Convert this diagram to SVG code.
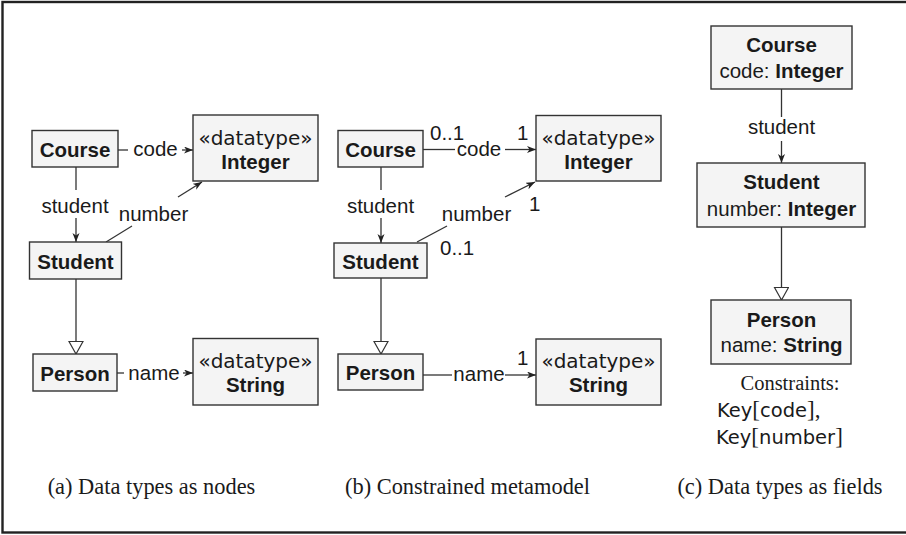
<svg xmlns="http://www.w3.org/2000/svg" width="906" height="535" viewBox="0 0 906 535">
  <style>
    .box { fill: #f4f4f4; stroke: #333; stroke-width: 1.4; }
    .edge { fill: none; stroke: #333; stroke-width: 1.3; }
    .frame { fill: none; stroke: #222; stroke-width: 2.4; }
    text { fill: #1a1a1a; font-family: "Liberation Sans", Arial, sans-serif; font-size: 20.5px; }
    .b { font-weight: bold; }
    .st { font-family: "DejaVu Sans", sans-serif; font-size: 20px; }
    .mid { text-anchor: middle; }
    .serif { font-family: "Liberation Serif", "Times New Roman", serif; }
    .cap { font-family: "Liberation Serif", "Times New Roman", serif; font-size: 22.4px; }
    .ss { font-family: "DejaVu Sans", sans-serif; font-size: 19.5px; }
    .br { font-family: "Liberation Serif", serif; font-size: 23px; }
  </style>
  <defs>
    <marker id="arrow" markerUnits="userSpaceOnUse" markerWidth="10" markerHeight="8" refX="9" refY="3.5" orient="auto">
      <path d="M0,0 L9,3.5 L0,7 L2.5,3.5 z" fill="#222"/>
    </marker>
    <marker id="inherit" markerUnits="userSpaceOnUse" markerWidth="16" markerHeight="16" refX="13" refY="7.5" orient="auto">
      <path d="M0.5,0.5 L13,7.5 L0.5,14.5 z" fill="#fff" stroke="#333" stroke-width="1.2"/>
    </marker>
  </defs>

  <rect class="frame" x="2.5" y="2" width="920" height="530.5"/>

  <!-- connectors -->
  <g id="connectors">
    <!-- (a) -->
    <line class="edge" x1="118" y1="150" x2="128" y2="150"/>
    <line class="edge" x1="182" y1="150" x2="193" y2="150" marker-end="url(#arrow)"/>
    <line class="edge" x1="76" y1="167" x2="76" y2="190"/>
    <line class="edge" x1="76" y1="218" x2="76" y2="242" marker-end="url(#arrow)"/>
    <line class="edge" x1="106" y1="242" x2="132" y2="226"/>
    <line class="edge" x1="178" y1="197" x2="202" y2="182" marker-end="url(#arrow)"/>
    <line class="edge" x1="76" y1="279" x2="76" y2="354" marker-end="url(#inherit)"/>
    <line class="edge" x1="117" y1="373" x2="124" y2="373"/>
    <line class="edge" x1="183" y1="373" x2="193" y2="373" marker-end="url(#arrow)"/>
    <!-- (b) -->
    <line class="edge" x1="423" y1="149.5" x2="455" y2="149.5"/>
    <line class="edge" x1="505" y1="149.5" x2="536" y2="149.5" marker-end="url(#arrow)"/>
    <line class="edge" x1="381" y1="167" x2="381" y2="190"/>
    <line class="edge" x1="381" y1="218" x2="381" y2="243" marker-end="url(#arrow)"/>
    <line class="edge" x1="417" y1="242" x2="447" y2="226"/>
    <line class="edge" x1="505" y1="197" x2="535" y2="182" marker-end="url(#arrow)"/>
    <line class="edge" x1="381" y1="278" x2="381" y2="354" marker-end="url(#inherit)"/>
    <line class="edge" x1="423" y1="375" x2="452" y2="375"/>
    <line class="edge" x1="505" y1="375" x2="536" y2="375" marker-end="url(#arrow)"/>
    <!-- (c) -->
    <line class="edge" x1="781.5" y1="89" x2="781.5" y2="117"/>
    <line class="edge" x1="781.5" y1="141" x2="781.5" y2="163" marker-end="url(#arrow)"/>
    <line class="edge" x1="781.5" y1="227" x2="781.5" y2="300" marker-end="url(#inherit)"/>
  </g>

  <!-- connector labels -->
  <g id="edge-labels">
    <text x="155.5" y="156" class="mid">code</text>
    <text x="75" y="213" class="mid">student</text>
    <text x="153.5" y="221" class="mid">number</text>
    <text x="154" y="380" class="mid">name</text>

    <text x="430" y="140">0..1</text>
    <text x="479" y="156" class="mid">code</text>
    <text x="517" y="140">1</text>
    <text x="380.5" y="213" class="mid">student</text>
    <text x="476.5" y="221" class="mid">number</text>
    <text x="529" y="211">1</text>
    <text x="440" y="255">0..1</text>
    <text x="479" y="381" class="mid">name</text>
    <text x="517" y="365">1</text>

    <text x="781.5" y="134" class="mid">student</text>
  </g>

  <!-- (a) Data types as nodes -->
  <g id="a-course">
    <rect class="box" x="32" y="130.5" width="86" height="36.5"/>
    <text x="75" y="157" class="mid b">Course</text>
  </g>
  <g id="a-integer">
    <rect class="box" x="193" y="115" width="125" height="66"/>
    <text x="255.5" y="145" class="mid st">«datatype»</text>
    <text x="255.5" y="169" class="mid b">Integer</text>
  </g>
  <g id="a-student">
    <rect class="box" x="29.5" y="242" width="92" height="37"/>
    <text x="75.5" y="269" class="mid b">Student</text>
  </g>
  <g id="a-person">
    <rect class="box" x="33" y="354" width="84" height="37"/>
    <text x="75" y="381" class="mid b">Person</text>
  </g>
  <g id="a-string">
    <rect class="box" x="193" y="338.5" width="125" height="66.5"/>
    <text x="255.5" y="368" class="mid st">«datatype»</text>
    <text x="255.5" y="392" class="mid b">String</text>
  </g>

  <!-- (b) Constrained metamodel -->
  <g id="b-course">
    <rect class="box" x="338" y="130.5" width="85" height="36.5"/>
    <text x="380.5" y="157" class="mid b">Course</text>
  </g>
  <g id="b-integer">
    <rect class="box" x="536" y="115.5" width="125" height="65.5"/>
    <text x="598.5" y="145" class="mid st">«datatype»</text>
    <text x="598.5" y="169" class="mid b">Integer</text>
  </g>
  <g id="b-student">
    <rect class="box" x="334" y="243" width="93" height="35"/>
    <text x="380.5" y="269" class="mid b">Student</text>
  </g>
  <g id="b-person">
    <rect class="box" x="338" y="354" width="85" height="36"/>
    <text x="380.5" y="380" class="mid b">Person</text>
  </g>
  <g id="b-string">
    <rect class="box" x="536" y="339" width="125" height="66"/>
    <text x="598.5" y="368" class="mid st">«datatype»</text>
    <text x="598.5" y="392" class="mid b">String</text>
  </g>

  <!-- (c) Data types as fields -->
  <g id="c-course">
    <rect class="box" x="711" y="26" width="141" height="63"/>
    <text x="781.5" y="52" class="mid b">Course</text>
    <text x="781.5" y="78" class="mid">code: <tspan class="b">Integer</tspan></text>
  </g>
  <g id="c-student">
    <rect class="box" x="697" y="163" width="168" height="64"/>
    <text x="781.5" y="189" class="mid b">Student</text>
    <text x="781.5" y="216" class="mid">number: <tspan class="b">Integer</tspan></text>
  </g>
  <g id="c-person">
    <rect class="box" x="711" y="300" width="140" height="64"/>
    <text x="781.5" y="327" class="mid b">Person</text>
    <text x="781.5" y="352" class="mid">name: <tspan class="b">String</tspan></text>
  </g>
  <g id="c-constraints">
    <text x="790" y="390" class="mid serif" font-size="21">Constraints:</text>
    <text x="717" y="417"><tspan class="ss">Key</tspan><tspan class="br">[</tspan><tspan class="ss">code</tspan><tspan class="br">],</tspan></text>
    <text x="716" y="444"><tspan class="ss">Key</tspan><tspan class="br">[</tspan><tspan class="ss">number</tspan><tspan class="br">]</tspan></text>
  </g>

  <!-- captions -->
  <g id="captions">
    <text x="151.5" y="494" class="mid cap">(a) Data types as nodes</text>
    <text x="467.5" y="494" class="mid cap">(b) Constrained metamodel</text>
    <text x="780" y="494" class="mid cap">(c) Data types as fields</text>
  </g>
</svg>
